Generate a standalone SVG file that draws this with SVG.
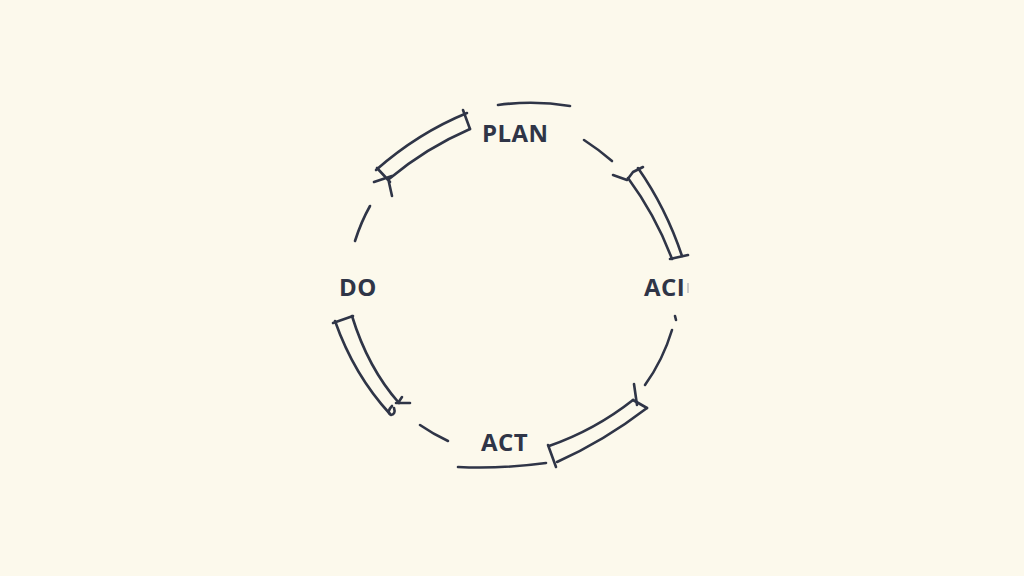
<svg xmlns="http://www.w3.org/2000/svg" width="1024" height="576" viewBox="0 0 1024 576">
<style>
.s{fill:none;stroke:#2f3547;stroke-width:2.6;stroke-linecap:round;stroke-linejoin:round}
.t{font-family:"Open Sans","Liberation Sans",sans-serif;font-weight:700;font-size:24px;letter-spacing:0.4px;fill:#2f3547}
</style>
<rect width="1024" height="576" fill="#fcf9ec"/>
<g id="connectors">
<path class="s" d="M498,105 Q534,100 570,106"/>
<path class="s" d="M584,140 Q598,149 612,161"/>
<path class="s" d="M370,206 Q361,222 355,241"/>
<path class="s" d="M672,330 Q663,360 645,385"/>
<path class="s" d="M675,316 L676,320"/>
<path class="s" d="M420,425 Q433,434 448,441"/>
<path class="s" d="M458,467 Q502,469 546,463"/>
<g id="band-tl">
<path class="s" d="M376,170 Q418,133 467,113"/>
<path class="s" d="M389,179 Q426,148 470,129"/>
<path class="s" d="M463,110 L470,129"/>
<path class="s" d="M374,182 L392,176 M377,168 L390,182 M388,178 L392,196"/>
</g>
<g id="band-tr">
<path class="s" d="M638,168 Q666,208 682,256"/>
<path class="s" d="M628,178 Q656,216 672,259"/>
<path class="s" d="M613,175 L627,180 L633,172 L643,167"/>
<path class="s" d="M670,259 L688,255"/>
</g>
<g id="band-br">
<path class="s" d="M549,446 Q595,430 633,400"/>
<path class="s" d="M557,462 Q604,441 647,408"/>
<path class="s" d="M633,400 L647,408"/>
<path class="s" d="M634,384 L637,405"/>
<path class="s" d="M548,445 L556,467"/>
</g>
<g id="band-l">
<path class="s" d="M335,321 Q354,375 390,414"/>
<path class="s" d="M352,316 Q368,368 399,403"/>
<path class="s" d="M333,323 L353,316"/>
<path class="s" d="M396,403 L410,403 M398,403 L402,397"/>
<path class="s" d="M392,406 Q386,412 391,415 Q396,414 394,408"/>
</g>
</g>
<g id="plan"><text class="t" x="482" y="142">PLAN</text></g>
<g id="act-right"><text class="t" x="644" y="296">ACI</text><path d="M688,283 L688,293" stroke="#9aa0ad" stroke-width="1"/></g>
<g id="do"><text class="t" x="339" y="296">DO</text></g>
<g id="act"><text class="t" x="481" y="451">ACT</text></g>
</svg>
